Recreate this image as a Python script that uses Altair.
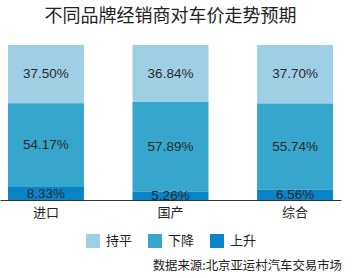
import altair as alt
import pandas as pd

categories = ["进口", "国产", "综合"]
series = ["持平", "下降", "上升"]
flat = [37.50, 36.84, 37.70]
down = [54.17, 57.89, 55.74]
up = [8.33, 5.26, 6.56]
colors = ["#9ecfe5", "#36a6cd", "#0a84c9"]
title_text = "不同品牌经销商对车价走势预期"
source_text = "数据来源:北京亚运村汽车交易市场"

rows = []
for i, c in enumerate(categories):
    for s, vals, o in zip(series, [flat, down, up], [3, 2, 1]):
        rows.append({"cat": c, "series": s, "value": vals[i], "ord": o,
                     "label": f"{vals[i]:.2f}%"})
df = pd.DataFrame(rows)

CJK = "Noto Sans CJK SC"
NUM = "Liberation Sans"

base = alt.Chart(df).transform_stack(
    stack="value", groupby=["cat"], as_=["y0", "y1"],
    sort=[alt.SortField("ord", order="ascending")]
).transform_calculate(mid="(datum.y0 + datum.y1) / 2")

xenc = alt.X("cat:N", sort=categories, title=None,
             scale=alt.Scale(paddingInner=0.39, paddingOuter=0.064),
             axis=alt.Axis(labelAngle=0, labelFont=CJK, labelFontSize=13,
                           labelColor="#222", domainColor="#333", domainWidth=1,
                           ticks=False, labelPadding=6))

bars = base.mark_bar(stroke=None).encode(
    x=xenc,
    y=alt.Y("y0:Q", scale=alt.Scale(domain=[0, 100], nice=False), axis=None),
    y2="y1:Q",
    color=alt.Color("series:N", sort=series,
                    scale=alt.Scale(domain=series, range=colors),
                    legend=alt.Legend(title=None, orient="none", direction="horizontal",
                                      legendX=86, legendY=189, symbolType="square",
                                      symbolSize=196, symbolStrokeWidth=0,
                                      labelFont=CJK, labelFontSize=13, labelColor="#222",
                                      labelOffset=6, columnPadding=15)),
)

labels = base.mark_text(font=NUM, fontSize=13.5, color="#2a2a2a", baseline="middle").encode(
    x=alt.X("cat:N", sort=categories),
    y=alt.Y("mid:Q"),
    text="label:N",
)

source = alt.Chart(pd.DataFrame({"t": [source_text]})).mark_text(
    font=CJK, fontSize=12.4, color="#222", align="right", baseline="middle"
).encode(x=alt.value(342), y=alt.value(221), text="t:N")

chart = alt.layer(bars, labels, source).properties(
    width=341, height=155,
    title=alt.TitleParams(title_text, font=CJK, fontSize=18, color="#222",
                          fontWeight="normal", anchor="middle", offset=19),
    padding={"left": 0, "top": 45, "right": 13, "bottom": 78},
    autosize=alt.AutoSizeParams(type="none"),
).configure_view(stroke=None)

chart.save("out.html", embed_options={"renderer": "svg", "actions": False})
